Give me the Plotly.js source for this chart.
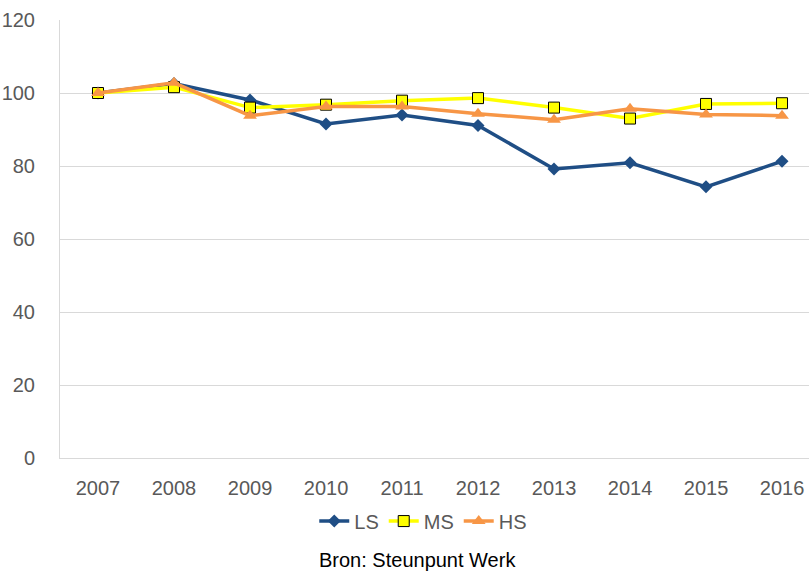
<!DOCTYPE html>
<html>
<head>
<meta charset="utf-8">
<script src="https://cdn.plot.ly/plotly-3.0.1.min.js"></script>
<style>html,body{margin:0;padding:0;background:#fff;}#chart{width:809px;height:573px;}</style>
</head>
<body>
<div id="chart"></div>
<script>
const years = ['2007','2008','2009','2010','2011','2012','2013','2014','2015','2016'];
const LS = [100, 102.6, 98.1, 91.5, 94.0, 91.1, 79.2, 80.9, 74.3, 81.3];
const MS = [100, 101.6, 96.0, 96.8, 97.9, 98.6, 96.0, 93.0, 97.0, 97.2];
const HS = [100, 102.8, 93.8, 96.3, 96.3, 94.3, 92.7, 95.7, 94.1, 93.8];
const yTicks = [0, 20, 40, 60, 80, 100, 120];
const sourceText = 'Bron: Steunpunt Werk';

const FONT = 'Liberation Sans, Arial, sans-serif';

const traces = [
  {x: years, y: LS, name: 'LS', type: 'scatter', mode: 'lines+markers',
   line: {color: '#1F4E85', width: 3.5}, marker: {symbol: 'diamond', size: 10, color: '#1F4E85'}},
  {x: years, y: MS, name: 'MS', type: 'scatter', mode: 'lines+markers',
   line: {color: '#FFFF00', width: 3.5}, marker: {symbol: 'square', size: 11, color: '#FFFF00', line: {color: '#000000', width: 1}}},
  {x: years, y: HS, name: 'HS', type: 'scatter', mode: 'lines+markers',
   line: {color: '#F79646', width: 3.5}, marker: {symbol: 'triangle-up', size: 12, color: '#F79646'}}
];

const layout = {
  width: 809, height: 573,
  margin: {l: 60, r: 0, t: 20, b: 115},
  paper_bgcolor: '#ffffff', plot_bgcolor: '#ffffff',
  font: {family: FONT, size: 20, color: '#595959'},
  showlegend: true,
  xaxis: {
    type: 'category', range: [-0.5, 9.355],
    showgrid: false, showline: true, linecolor: '#D9D9D9', linewidth: 1,
    ticks: '', ticklabelstandoff: 12, zeroline: false,
    tickfont: {family: FONT, size: 20, color: '#595959'}
  },
  yaxis: {
    range: [0, 120], tickvals: yTicks, ticktext: yTicks.map(String),
    showgrid: true, gridcolor: '#D9D9D9', gridwidth: 1,
    showline: true, linecolor: '#D9D9D9', linewidth: 1,
    zeroline: false, ticks: '', ticklabelstandoff: 20,
    tickfont: {family: FONT, size: 20, color: '#595959'}
  },
  legend: {
    orientation: 'h', x: 0.485, xanchor: 'center', y: -0.144, yanchor: 'middle',
    font: {family: FONT, size: 20, color: '#595959'}, itemwidth: 30, tracegroupgap: 0,
    bgcolor: 'rgba(0,0,0,0)'
  },
  annotations: [{
    text: sourceText, xref: 'paper', yref: 'paper', x: 0.477, y: -0.233,
    xanchor: 'center', yanchor: 'middle', showarrow: false,
    font: {family: FONT, size: 20, color: '#000000'}
  }]
};

Plotly.newPlot('chart', traces, layout, {displayModeBar: false, staticPlot: true});
</script>
</body>
</html>
